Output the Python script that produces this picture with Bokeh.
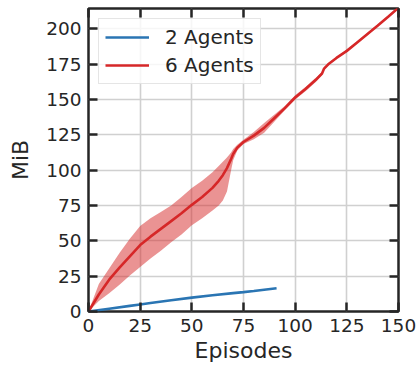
from bokeh.plotting import figure
from bokeh.models import LinearAxis, FixedTicker, Legend, LegendItem, Range1d
from bokeh.embed import file_html
from bokeh.resources import INLINE

# ---- data ----
x_ticks = [0, 25, 50, 75, 100, 125, 150]
y_ticks = [0, 25, 50, 75, 100, 125, 150, 175, 200]

x2 = [0, 10, 20, 25, 30, 40, 50, 60, 70, 75, 80, 91]
mean2 = [0, 2, 4, 5, 6, 8, 9.8, 11.5, 13, 13.7, 14.5, 16.5]

x6 = [0, 5, 10, 15, 20, 25, 30, 35, 40, 45, 50, 55, 60, 63, 65, 67, 69, 70, 72,
      75, 80, 85, 90, 95, 100, 105, 110, 113, 114, 116, 120, 125, 130, 135, 140, 145, 150]
mean6 = [0, 12, 22.5, 31, 39, 47, 53, 58.5, 64, 69.5, 75.5, 81, 87.5, 92.5, 96.5, 101.5, 108, 111.5, 116,
         120, 124.5, 130, 137, 144, 151.5, 157.5, 164, 168.5, 172, 175, 179.5, 184.5, 190.5, 196.5, 202.5, 208.7, 215]
upper6 = [0, 19.5, 30.5, 41.5, 51.5, 60.5, 66, 70.5, 75, 81, 87.5, 92.5, 98.5, 103, 106, 109, 112.5, 115, 118,
          121.5, 127, 133.5, 139.5, 145.5, 153, 159, 165.5, 169.5, 173, 175.8, 180.3, 185.3, 191.3, 197.3, 203.3, 209.5, 215.8]
lower6 = [0, 7.5, 13, 19, 25.5, 31.5, 37.5, 43, 49, 54.5, 61, 66, 71.5, 75, 78.5, 85, 100, 107, 114,
          118.5, 122, 126.5, 134.5, 142.5, 150, 156, 162.5, 167.5, 171, 174.2, 178.7, 183.7, 189.7, 195.7, 201.7, 207.9, 214.2]

labels = ["2 Agents", "6 Agents"]
BLUE = "#2a75b3"
RED = "#d62728"
DARK = "#262626"
FONT = "DejaVu Sans"

p = figure(width=416, height=368, output_backend="svg", toolbar_location=None,
           x_range=Range1d(0, 150), y_range=Range1d(0, 214.5),
           min_border_left=88, min_border_right=18, min_border_top=8, min_border_bottom=57,
           x_axis_label="Episodes", y_axis_label="MiB")
p.background_fill_color = "white"
p.border_fill_color = "white"
p.outline_line_color = DARK
p.outline_line_width = 2.5

p.xgrid.ticker = FixedTicker(ticks=x_ticks)
p.ygrid.ticker = FixedTicker(ticks=y_ticks)
for g in (p.xgrid[0], p.ygrid[0]):
    g.grid_line_color = "#d0d0d0"
    g.grid_line_width = 1.6

r_blue = p.line(x2, mean2, line_color=BLUE, line_width=2.6)
p.varea(x=x6, y1=lower6, y2=upper6, fill_color=RED, fill_alpha=0.5)
r_red = p.line(x6, mean6, line_color=RED, line_width=2.6)

def style_axis(ax, ticks, show_labels=True):
    ax.ticker = FixedTicker(ticks=ticks)
    ax.axis_line_color = None
    ax.major_tick_in = 9
    ax.major_tick_out = 0
    ax.major_tick_line_color = DARK
    ax.major_tick_line_width = 2.5
    ax.minor_tick_line_color = None
    ax.major_label_text_font = FONT
    ax.major_label_text_color = DARK
    ax.axis_label_text_font = FONT
    ax.axis_label_text_color = DARK
    ax.axis_label_text_font_style = "normal"
    ax.axis_label_text_font_size = "22px"
    if show_labels:
        ax.major_label_text_font_size = "18.5px"
    else:
        ax.major_label_text_font_size = "0px"
        ax.major_label_standoff = 0

xa = p.xaxis[0]
style_axis(xa, x_ticks)
xa.major_label_standoff = 7
xa.axis_label_standoff = 3
ya = p.yaxis[0]
style_axis(ya, y_ticks)
ya.major_label_standoff = 7
ya.axis_label_standoff = 10

top = LinearAxis()
style_axis(top, x_ticks, show_labels=False)
p.add_layout(top, "above")
right = LinearAxis()
style_axis(right, y_ticks, show_labels=False)
p.add_layout(right, "right")

legend = Legend(items=[LegendItem(label=labels[0], renderers=[r_blue]),
                       LegendItem(label=labels[1], renderers=[r_red])],
                location="top_left")
legend.margin = 10
legend.padding = 6
legend.spacing = 4
legend.glyph_width = 44
legend.glyph_height = 20
legend.label_height = 20
legend.label_standoff = 16
legend.label_text_font = FONT
legend.label_text_font_size = "20px"
legend.label_text_color = DARK
legend.border_line_color = "#cccccc"
legend.border_line_width = 1
legend.background_fill_color = "white"
legend.background_fill_alpha = 0.8
p.add_layout(legend)

open("out.html", "w").write(file_html(p, INLINE))
